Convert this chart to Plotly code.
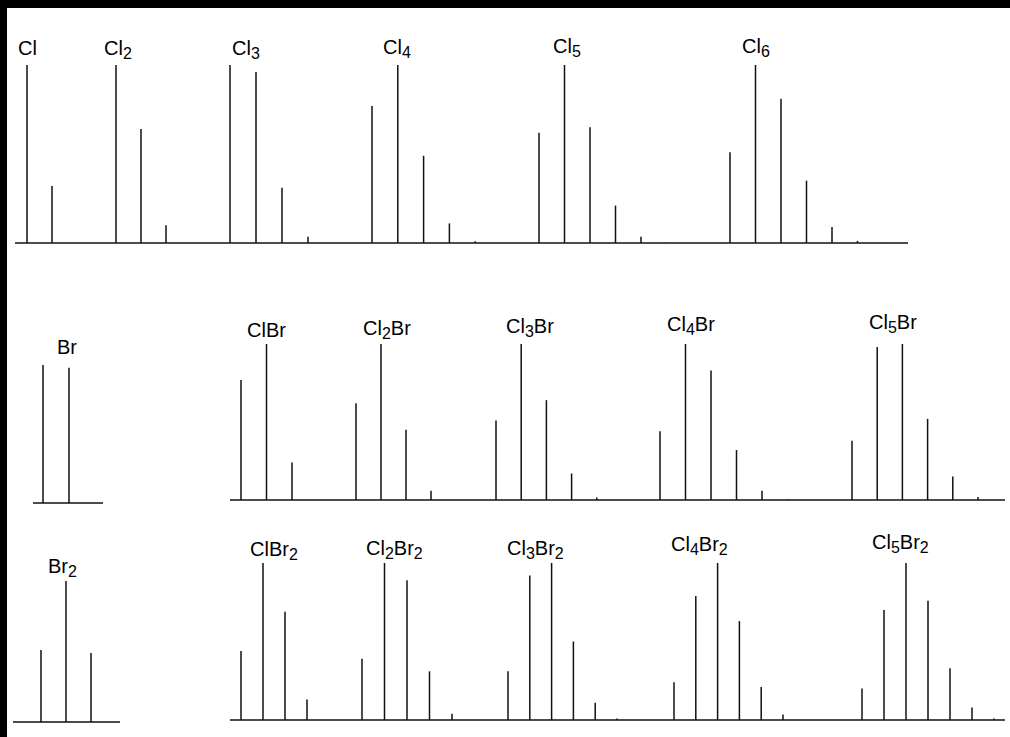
import plotly.graph_objects as go

W, H = 1010, 737

# ---- data: relative isotope-pattern intensities (% of tallest peak) ----
cl1 = [100, 32]
cl2 = [100, 64, 10]
cl3 = [100, 96, 31, 3.5]
cl4 = [77, 100, 49, 11, 1]
cl5 = [62, 100, 65, 21, 3.5, 0.3]
cl6 = [51, 100, 81, 35, 9, 1.2, 0.1]

br1 = [100, 98]
cl1br1 = [77, 100, 24]
cl2br1 = [62, 100, 45, 6]
cl3br1 = [51, 100, 64, 17, 1.6]
cl4br1 = [44, 100, 83, 32, 6, 0.5]
cl5br1 = [38, 98, 100, 52, 15, 2]

br2 = [51, 100, 49]
cl1br2 = [44, 100, 69, 13]
cl2br2 = [39, 100, 89, 31, 4]
cl3br2 = [31, 92, 100, 50, 11, 1]
cl4br2 = [24, 79, 100, 63, 21, 3.5]
cl5br2 = [20, 70, 100, 76, 33, 8, 1]


def sub(n):
    return "<sub><span style='font-size:16px'>%s</span></sub>" % n


labels = ["Cl", "Cl" + sub(2), "Cl" + sub(3), "Cl" + sub(4), "Cl" + sub(5), "Cl" + sub(6),
          "Br", "ClBr", "Cl" + sub(2) + "Br", "Cl" + sub(3) + "Br", "Cl" + sub(4) + "Br", "Cl" + sub(5) + "Br",
          "Br" + sub(2), "ClBr" + sub(2), "Cl" + sub(2) + "Br" + sub(2), "Cl" + sub(3) + "Br" + sub(2),
          "Cl" + sub(4) + "Br" + sub(2), "Cl" + sub(5) + "Br" + sub(2)]
series = [cl1, cl2, cl3, cl4, cl5, cl6,
          br1, cl1br1, cl2br1, cl3br1, cl4br1, cl5br1,
          br2, cl1br2, cl2br2, cl3br2, cl4br2, cl5br2]

# ---- layout (pixel placement) ----
# (first peak x, peak spacing, axis, label x, label y)
place = [
    (27, 25.0, "y", 27, 48), (116, 25.0, "y", 118, 49), (230, 26.0, "y", 246, 49),
    (372, 25.8, "y", 397, 48), (539, 25.5, "y", 567, 47), (730, 25.5, "y", 756, 47),
    (43, 26.0, "y3", 67, 347), (241, 25.5, "y2", 266, 330), (356, 25.0, "y2", 387, 329),
    (496, 25.2, "y2", 530, 327), (660, 25.5, "y2", 691, 325), (852, 25.2, "y2", 893, 323),
    (41, 25.0, "y5", 62, 567), (241, 22.0, "y4", 274, 550), (362, 22.5, "y4", 394, 549),
    (508, 21.8, "y4", 535, 549), (674, 21.8, "y4", 699, 545), (862, 22.0, "y4", 900, 543),
]
# axis: (baseline pixel, pixel height of 100%)
axes = {"y": (243, 178), "y2": (500, 156), "y3": (503, 138), "y4": (720, 157), "y5": (722, 141)}
baselines = [("y", 15, 908), ("y3", 33, 103), ("y2", 230, 1005), ("y5", 13, 120), ("y4", 230, 1005)]

fig = go.Figure()
line_col = "#111111"

for ax, xa, xb in baselines:
    fig.add_trace(go.Scatter(x=[xa, xb], y=[0, 0], mode="lines", yaxis=ax,
                             line=dict(color=line_col, width=1.5), hoverinfo="skip"))

for vals, (x0, dx, ax, lx, ly) in zip(series, place):
    xs, ys = [], []
    for i, v in enumerate(vals):
        x = x0 + i * dx
        xs += [x, x, None]
        ys += [0, v, None]
    fig.add_trace(go.Scatter(x=xs, y=ys, mode="lines", yaxis=ax,
                             line=dict(color=line_col, width=1.5), hoverinfo="skip"))

for lab, (x0, dx, ax, lx, ly) in zip(labels, place):
    fig.add_annotation(x=lx, y=1 - ly / H, xref="x", yref="paper", text=lab, showarrow=False,
                       xanchor="center", yanchor="middle",
                       font=dict(family="Liberation Sans, Arial, sans-serif", size=20,
                                 color="black"))


def yrange(base, h):
    s = 100.0 / h
    r0 = -s * (H - base)
    return [r0, r0 + s * H]


layout_axes = {}
for name, (base, h) in axes.items():
    key = "yaxis" if name == "y" else "yaxis" + name[1:]
    d = dict(range=yrange(base, h), domain=[0, 1], visible=False, fixedrange=True)
    if name != "y":
        d["overlaying"] = "y"
    layout_axes[key] = d

fig.update_layout(
    width=W, height=H, margin=dict(l=0, r=0, t=0, b=0),
    paper_bgcolor="white", plot_bgcolor="white", showlegend=False,
    xaxis=dict(range=[0, W], domain=[0, 1], visible=False, fixedrange=True),
    shapes=[
        dict(type="rect", xref="paper", yref="paper", x0=0, x1=1, y0=1 - 8 / H, y1=1,
             fillcolor="black", line=dict(width=0), layer="above"),
        dict(type="rect", xref="paper", yref="paper", x0=0, x1=7 / W, y0=0, y1=1,
             fillcolor="black", line=dict(width=0), layer="above"),
    ],
    **layout_axes,
)

fig.write_html("out.html", config={"displayModeBar": False},
               post_script="document.body.style.margin='0';document.body.style.overflow='hidden';")
